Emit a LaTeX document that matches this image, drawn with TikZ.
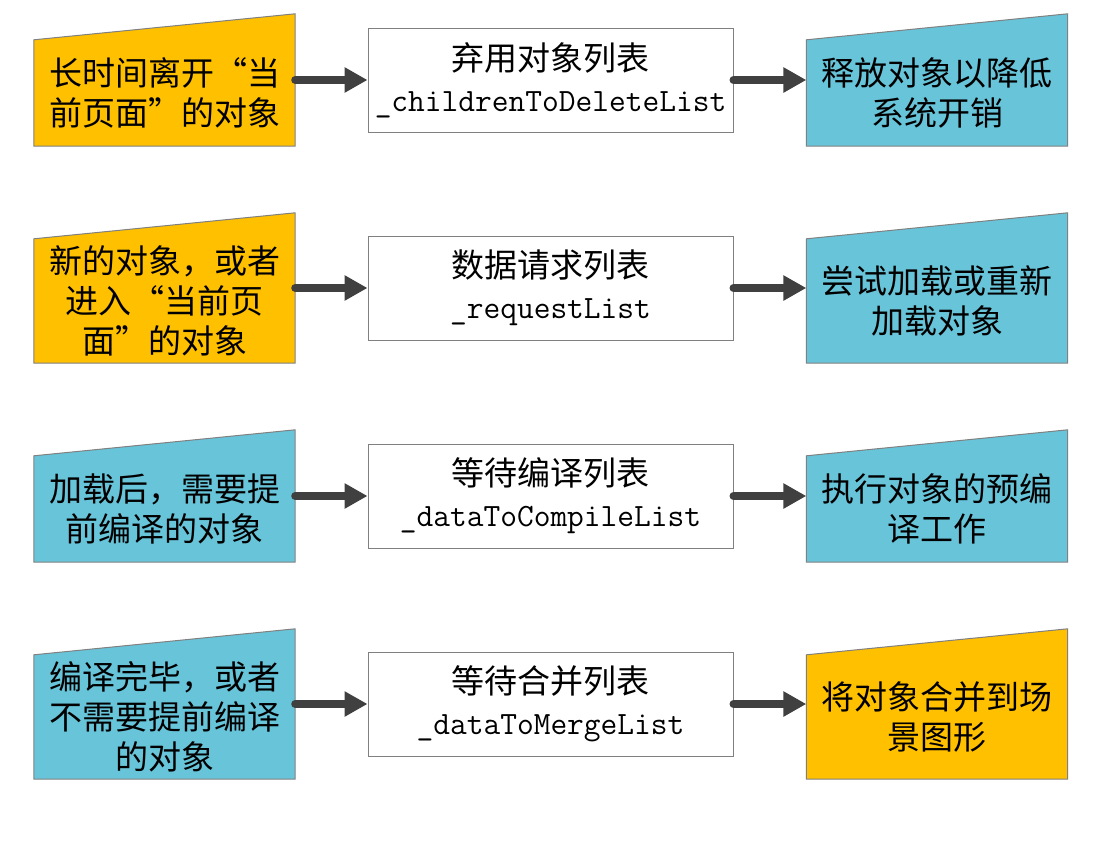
\documentclass[tikz,border=0pt]{standalone}
\usepackage{fontspec}
\newfontfamily\cjk[RawFeature=+fwid]{Noto Sans CJK SC}
\usetikzlibrary{arrows.meta}
\pgfdeclarelayer{bg}\pgfsetlayers{bg,main}
\definecolor{ora}{RGB}{255,192,0}
\definecolor{aqua}{RGB}{104,196,217}
\definecolor{edgec}{RGB}{128,128,128}
\definecolor{arrowc}{RGB}{64,64,64}
\tikzset{
 side/.style={minimum width=261pt, inner sep=0pt, align=center, font=\cjk\fontsize{33}{40}\selectfont},
 listbox/.style={draw=edgec, line width=1pt, fill=white, minimum width=365pt, minimum height=104pt, inner sep=0pt, align=center, font=\cjk\fontsize{33}{41}\selectfont},
 flow/.style={draw=arrowc, line width=8pt, line cap=round, -{Triangle[length=23pt,width=24pt]}},
 wedgeline/.style={draw=edgec, line width=1pt}
}
\newcommand\wedgeshape[2]{%
  \begin{pgfonlayer}{bg}
  \filldraw[wedgeline, fill=#2] (#1.south west) -- (#1.north west) -- ([yshift=26pt]#1.north east) -- (#1.south east) -- cycle;
  \end{pgfonlayer}}
\newcommand\monotxt[1]{{\ttfamily\fontsize{32.5}{41}\selectfont #1}}
\begin{document}
\begin{tikzpicture}[x=1pt,y=-1pt]
\useasboundingbox (0,0) rectangle (1109,841);
% row 1
\node[side, minimum height=106pt] (L1) at (164.5,93) {长时间离开“当\\前页面”的对象};
\wedgeshape{L1}{ora}
\node[listbox] (B1) at (550.5,80) {弃用对象列表\\\monotxt{\_childrenToDeleteList}};
\node[side, minimum height=106pt] (R1) at (937,93) {释放对象以降低\\系统开销};
\wedgeshape{R1}{aqua}
\draw[flow] (L1.east |- B1.west) -- (B1.west);
\draw[flow] (B1.east) -- (R1.west |- B1.east);
% row 2
\node[side, minimum height=124pt] (L2) at (164.5,301) {新的对象，或者\\进入“当前页\\面”的对象};
\wedgeshape{L2}{ora}
\node[listbox] (B2) at (550.5,288) {数据请求列表\\\monotxt{\_requestList}};
\node[side, minimum height=124pt] (R2) at (937,301) {尝试加载或重新\\加载对象};
\wedgeshape{R2}{aqua}
\draw[flow] (L2.east |- B2.west) -- (B2.west);
\draw[flow] (B2.east) -- (R2.west |- B2.east);
% row 3
\node[side, minimum height=106pt] (L3) at (164.5,509) {加载后，需要提\\前编译的对象};
\wedgeshape{L3}{aqua}
\node[listbox] (B3) at (550.5,496) {等待编译列表\\\monotxt{\_dataToCompileList}};
\node[side, minimum height=106pt] (R3) at (937,509) {执行对象的预编\\译工作};
\wedgeshape{R3}{aqua}
\draw[flow] (L3.east |- B3.west) -- (B3.west);
\draw[flow] (B3.east) -- (R3.west |- B3.east);
% row 4
\node[side, minimum height=124pt] (L4) at (164.5,717) {编译完毕，或者\\不需要提前编译\\的对象};
\wedgeshape{L4}{aqua}
\node[listbox] (B4) at (550.5,704) {等待合并列表\\\monotxt{\_dataToMergeList}};
\node[side, minimum height=124pt] (R4) at (937,717) {将对象合并到场\\景图形};
\wedgeshape{R4}{ora}
\draw[flow] (L4.east |- B4.west) -- (B4.west);
\draw[flow] (B4.east) -- (R4.west |- B4.east);
\end{tikzpicture}
\end{document}
